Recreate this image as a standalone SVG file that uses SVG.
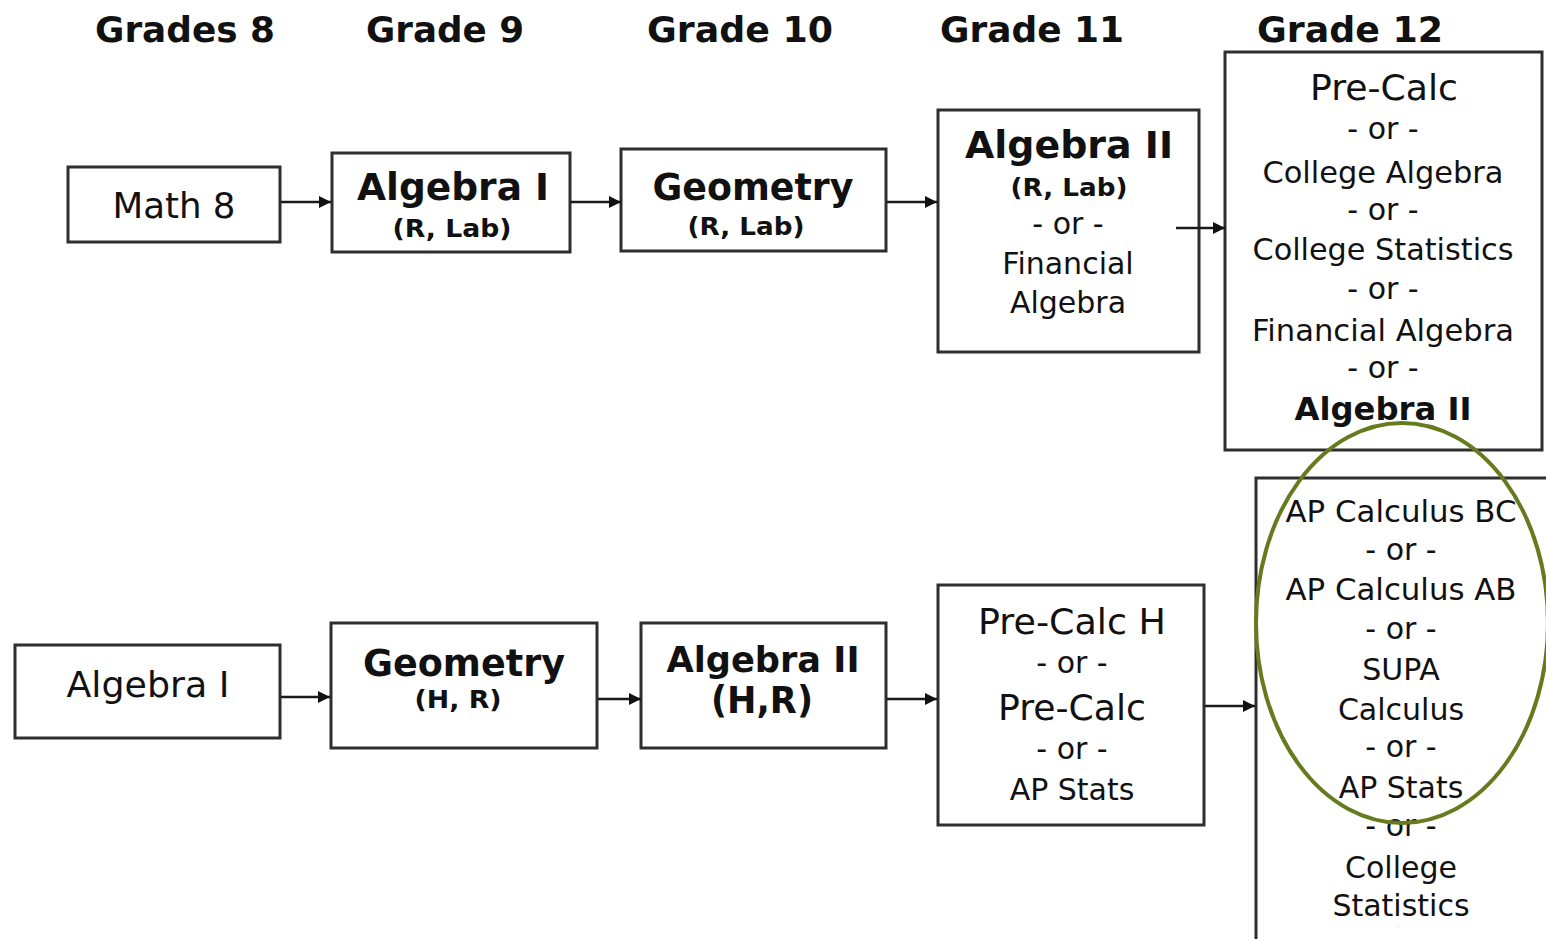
<svg xmlns="http://www.w3.org/2000/svg" width="1546" height="939" viewBox="0 0 1546 939">
<style>
.box{fill:#fff;stroke:#2e2e2e;stroke-width:3}
text{font-family:"DejaVu Sans","Verdana",sans-serif;fill:#111;text-anchor:middle}
.hd{font-family:"DejaVu Sans Condensed","DejaVu Sans",sans-serif;font-weight:bold;font-size:36px}
.n{font-size:30px}
.l{font-size:36px}
.sub{font-weight:bold;font-size:25px}
.big{font-weight:bold;font-size:37px}
.con{stroke:#1a1a1a;stroke-width:2.5;fill:none;marker-end:url(#ah)}
</style>
<defs>
<marker id="ah" viewBox="0 0 10 10" refX="10" refY="5" markerWidth="5" markerHeight="5" markerUnits="strokeWidth" orient="auto">
<path d="M0,0 L10,5 L0,10 z" fill="#111"/>
</marker>
</defs>
<rect width="1546" height="939" fill="#fff"/>
<g id="headers">
<text class="hd" x="185" y="42" textLength="180" lengthAdjust="spacingAndGlyphs">Grades 8</text>
<text class="hd" x="445" y="42" textLength="158" lengthAdjust="spacingAndGlyphs">Grade 9</text>
<text class="hd" x="740" y="42" textLength="186" lengthAdjust="spacingAndGlyphs">Grade 10</text>
<text class="hd" x="1032" y="42" textLength="184" lengthAdjust="spacingAndGlyphs">Grade 11</text>
<text class="hd" x="1350" y="42" textLength="186" lengthAdjust="spacingAndGlyphs">Grade 12</text>
</g>
<g id="math8">
<rect class="box" x="68" y="167" width="212" height="75"/>
<text class="l" x="174" y="218" textLength="123" lengthAdjust="spacingAndGlyphs">Math 8</text>
</g>
<g id="algebra1-top">
<rect class="box" x="332" y="153" width="238" height="99"/>
<text class="big" x="453" y="200" textLength="192" lengthAdjust="spacingAndGlyphs">Algebra I</text>
<text class="sub" x="452" y="237" textLength="119" lengthAdjust="spacingAndGlyphs">(R, Lab)</text>
</g>
<g id="geometry-top">
<rect class="box" x="621" y="149" width="265" height="102"/>
<text class="big" x="753" y="200" textLength="201" lengthAdjust="spacingAndGlyphs">Geometry</text>
<text class="sub" x="746" y="235" textLength="117" lengthAdjust="spacingAndGlyphs">(R, Lab)</text>
</g>
<g id="algebra2-top">
<rect class="box" x="938" y="110" width="261" height="242"/>
<text class="big" x="1069" y="158" textLength="208" lengthAdjust="spacingAndGlyphs">Algebra II</text>
<text class="sub" x="1069" y="196" textLength="117" lengthAdjust="spacingAndGlyphs">(R, Lab)</text>
<text class="n" x="1068" y="234">- or -</text>
<text class="n" x="1068" y="274">Financial</text>
<text class="n" x="1068" y="313">Algebra</text>
</g>
<g id="grade12-top">
<rect class="box" x="1225" y="52" width="317" height="398"/>
<text class="l" x="1384" y="100" textLength="148" lengthAdjust="spacingAndGlyphs">Pre-Calc</text>
<text class="n" x="1383" y="139">- or -</text>
<text class="n" x="1383" y="183" textLength="241" lengthAdjust="spacingAndGlyphs">College Algebra</text>
<text class="n" x="1383" y="220">- or -</text>
<text class="n" x="1383" y="260" textLength="261" lengthAdjust="spacingAndGlyphs">College Statistics</text>
<text class="n" x="1383" y="299">- or -</text>
<text class="n" x="1383" y="341" textLength="262" lengthAdjust="spacingAndGlyphs">Financial Algebra</text>
<text class="n" x="1383" y="378">- or -</text>
<text class="big" x="1383" y="420" style="font-size:32px" textLength="177" lengthAdjust="spacingAndGlyphs">Algebra II</text>
</g>
<g id="algebra1-bottom">
<rect class="box" x="15" y="645" width="265" height="93"/>
<text class="l" x="148" y="697" textLength="163" lengthAdjust="spacingAndGlyphs">Algebra I</text>
</g>
<g id="geometry-bottom">
<rect class="box" x="331" y="623" width="266" height="125"/>
<text class="big" x="464" y="676" textLength="202" lengthAdjust="spacingAndGlyphs">Geometry</text>
<text class="sub" x="458" y="708" textLength="87" lengthAdjust="spacingAndGlyphs">(H, R)</text>
</g>
<g id="algebra2-bottom">
<rect class="box" x="641" y="623" width="245" height="125"/>
<text class="big" x="763" y="672" style="font-size:35px" textLength="193" lengthAdjust="spacingAndGlyphs">Algebra II</text>
<text class="big" x="762" y="713" textLength="102" lengthAdjust="spacingAndGlyphs">(H,R)</text>
</g>
<g id="precalc-bottom">
<rect class="box" x="938" y="585" width="266" height="240"/>
<text class="l" x="1072" y="634" textLength="188" lengthAdjust="spacingAndGlyphs">Pre-Calc H</text>
<text class="n" x="1072" y="673">- or -</text>
<text class="l" x="1072" y="720" textLength="148" lengthAdjust="spacingAndGlyphs">Pre-Calc</text>
<text class="n" x="1072" y="759">- or -</text>
<text class="n" x="1072" y="800">AP Stats</text>
</g>
<g id="grade12-bottom">
<rect class="box" x="1256" y="478" width="300" height="470"/>
<text class="n" x="1401" y="522" textLength="231" lengthAdjust="spacingAndGlyphs">AP Calculus BC</text>
<text class="n" x="1401" y="560">- or -</text>
<text class="n" x="1401" y="600" textLength="231" lengthAdjust="spacingAndGlyphs">AP Calculus AB</text>
<text class="n" x="1401" y="639">- or -</text>
<text class="n" x="1401" y="680">SUPA</text>
<text class="n" x="1401" y="720">Calculus</text>
<text class="n" x="1401" y="757">- or -</text>
<text class="n" x="1401" y="798">AP Stats</text>
<text class="n" x="1401" y="836">- or -</text>
<text class="n" x="1401" y="878">College</text>
<text class="n" x="1401" y="916">Statistics</text>
</g>
<g id="connectors">
<line class="con" x1="281" y1="202" x2="331" y2="202"/>
<line class="con" x1="571" y1="202" x2="621" y2="202"/>
<line class="con" x1="887" y1="202" x2="937" y2="202"/>
<line class="con" x1="1176" y1="228" x2="1225" y2="228"/>
<line class="con" x1="281" y1="697" x2="330" y2="697"/>
<line class="con" x1="598" y1="699" x2="641" y2="699"/>
<line class="con" x1="887" y1="699" x2="937" y2="699"/>
<line class="con" x1="1205" y1="706" x2="1255" y2="706"/>
</g>
<g id="highlight">
<ellipse cx="1402" cy="623" rx="146" ry="200" fill="none" stroke="#667a1e" stroke-width="4"/>
</g>
</svg>
